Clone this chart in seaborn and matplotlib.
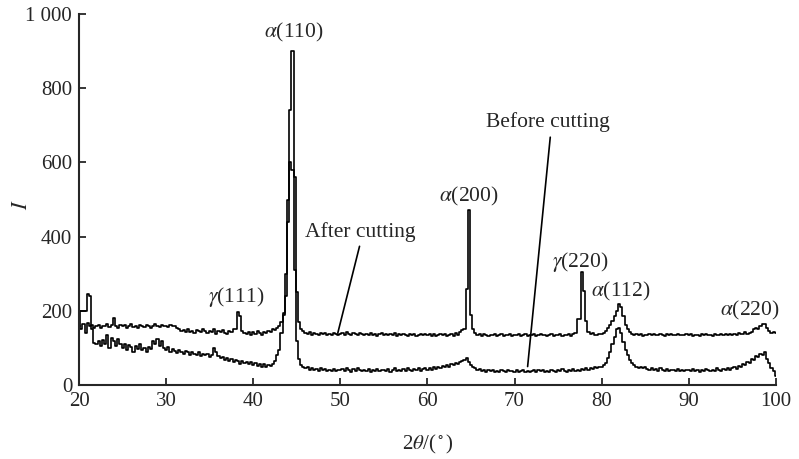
import numpy as np
import pandas as pd
import matplotlib
matplotlib.use("Agg")
import matplotlib.pyplot as plt
import seaborn as sns

# 2theta grid, 0.25 deg steps from 20 to 100
two_theta = np.arange(20, 100.001, 0.25)

# intensity after cutting (20 values per 5 deg)
I_after = [
    160, 150, 165, 140, 168, 160, 162, 155, 158, 163, 155, 160, 158, 165, 157, 162, 180, 160, 155, 163,
    158, 162, 155, 160, 165, 157, 160, 154, 162, 158, 156, 163, 160, 155, 158, 165, 160, 157, 162, 158,
    160, 156, 162, 158, 160, 155, 150, 145, 148, 142, 150, 144, 147, 140, 148, 145, 142, 150, 146, 140,
    147, 143, 150, 138, 146, 142, 148, 140, 138, 145, 142, 150, 150, 198, 185, 145, 140, 138, 143, 136,
    142, 138, 145, 140, 136, 144, 140, 146, 142, 150, 148, 155, 160, 170, 190, 240, 440, 740, 900, 560,
    250, 170, 150, 145, 140, 138, 142, 136, 140, 138, 135, 141, 137, 140, 136, 139, 135, 140, 138, 136,
    138, 140, 136, 142, 137, 135, 140, 138, 136, 141, 137, 134, 139, 136, 140, 135, 138, 133, 137, 140,
    136, 139, 134, 138, 135, 140, 132, 137, 135, 139, 136, 133, 138, 135, 137, 131, 136, 139, 134, 137,
    135, 138, 133, 137, 131, 136, 139, 134, 137, 132, 135, 138, 133, 140, 136, 142, 148, 150, 260, 472,
    190, 150, 140, 135, 138, 133, 137, 135, 132, 136, 134, 138, 131, 135, 137, 133, 136, 134, 138, 132,
    136, 134, 137, 131, 135, 138, 133, 136, 134, 137, 132, 135, 138, 134, 136, 131, 135, 137, 133, 136,
    134, 137, 132, 136, 135, 138, 133, 137, 140, 178, 178, 305, 254, 172, 142, 138, 140, 136, 134, 138,
    138, 140, 145, 155, 162, 172, 185, 200, 218, 210, 185, 162, 150, 142, 138, 135, 138, 134, 137, 133,
    136, 134, 138, 135, 137, 134, 136, 138, 135, 133, 137, 135, 138, 136, 134, 137, 135, 136, 134, 138,
    135, 137, 133, 136, 134, 132, 137, 135, 138, 134, 136, 133, 137, 135, 134, 138, 136, 139, 135, 137,
    136, 138, 135, 140, 137, 139, 142, 138, 141, 143, 150, 155, 152, 160, 165, 164, 155, 145, 140, 142,
    140,
]

# intensity before cutting
I_before = [
    158, 200, 200, 200, 245, 240, 150, 113, 110, 118, 105, 122, 112, 135, 100, 128, 118, 105, 125, 110,
    100, 112, 95, 108, 102, 90, 105, 98, 110, 95, 100, 88, 102, 97, 120, 112, 125, 105, 118, 100,
    95, 102, 88, 98, 92, 86, 95, 90, 84, 92, 88, 80, 90, 85, 82, 88, 78, 85, 80, 83,
    76, 82, 100, 88, 78, 72, 76, 68, 74, 65, 70, 62, 68, 64, 58, 66, 60, 63, 56, 62,
    55, 60, 52, 58, 50, 56, 48, 55, 52, 58, 65, 80, 95, 140, 195, 300, 500, 600, 580, 310,
    120, 70, 55, 48, 45, 50, 42, 46, 40, 44, 38, 45, 40, 43, 37, 42, 39, 44, 38, 41,
    40, 44, 38, 45, 41, 36, 43, 39, 46, 40, 37, 42, 38, 44, 36, 41, 39, 43, 37, 40,
    42, 38, 44, 36, 41, 45, 38, 42, 37, 43, 39, 46, 40, 38, 44, 41, 45, 39, 43, 47,
    42, 46, 40, 48, 44, 50, 45, 52, 48, 55, 50, 58, 54, 60, 56, 62, 65, 68, 72, 62,
    55, 50, 45, 40, 43, 38, 41, 36, 40, 37, 42, 35, 39, 36, 41, 38, 35, 40, 37, 39,
    36, 40, 35, 38, 42, 36, 39, 34, 38, 41, 35, 40, 37, 42, 36, 39, 35, 41, 38, 36,
    40, 37, 43, 38, 36, 42, 39, 44, 38, 41, 37, 43, 40, 45, 42, 46, 43, 48, 45, 50,
    48, 55, 60, 72, 90, 110, 130, 150, 155, 140, 115, 95, 80, 68, 60, 55, 50, 47, 50, 45,
    48, 44, 42, 46, 40, 43, 38, 45, 41, 39, 44, 37, 42, 40, 38, 43, 39, 41, 37, 42,
    40, 38, 43, 39, 41, 36, 42, 38, 44, 40, 37, 42, 39, 45, 41, 38, 43, 40, 46, 42,
    45, 48, 44, 52, 50, 56, 54, 62, 60, 70, 68, 78, 75, 85, 80, 88, 70, 60, 45, 38,
    25,
]

# peak labels
peak_labels = [r"$\alpha$(110)", r"$\gamma$(111)", r"$\alpha$(200)",
               r"$\gamma$(220)", r"$\alpha$(112)", r"$\alpha$(220)"]
peak_x = [44.6, 38.1, 64.7, 77.5, 82.2, 97.0]
peak_y = [950, 237, 508, 331, 251, 200]

y_ticks = [0, 200, 400, 600, 800, 1000]
y_tick_labels = ["0", "200", "400", "600", "800", "1 000"]
x_ticks = [20, 30, 40, 50, 60, 70, 80, 90, 100]

df = pd.DataFrame({"two_theta": two_theta, "after": I_after, "before": I_before})

sns.set_style("ticks")
plt.rcParams["font.family"] = ["Liberation Serif", "DejaVu Serif"]
plt.rcParams["mathtext.fontset"] = "stix"

fig = plt.figure(figsize=(7.99, 4.59), dpi=100)
ax = fig.add_axes([0.099, 0.161, 0.872, 0.8085])

for col in ["after", "before"]:
    sns.lineplot(data=df, x="two_theta", y=col, ax=ax, color="black",
                 linewidth=1.2, drawstyle="steps-mid", estimator=None)

ax.set_xlim(20, 100)
ax.set_ylim(0, 1000)
ax.set_xticks(x_ticks)
ax.set_yticks(y_ticks)
ax.set_yticklabels(y_tick_labels)
ax.tick_params(direction="in", length=5, width=1.3, labelsize=15, pad=5)
sns.despine(ax=ax)
for s in ["left", "bottom"]:
    ax.spines[s].set_linewidth(1.5)

ax.set_xlabel(r"2$\theta$/($^\circ$)", fontsize=15, labelpad=16)
ax.set_ylabel(r"$I$", fontsize=16)
ax.yaxis.set_label_coords(-0.068, 0.485)

for lab, px, py in zip(peak_labels, peak_x, peak_y):
    ax.text(px, py, lab, ha="center", va="center", fontsize=15.5)

# curve labels with leader lines
ax.text(52.3, 413, "After cutting", ha="center", va="center", fontsize=15.5)
ax.plot([52.2, 49.7], [374, 140], color="black", linewidth=1.2)
ax.text(73.8, 710, "Before cutting", ha="center", va="center", fontsize=15.5)
ax.plot([74.1, 71.5], [668, 50], color="black", linewidth=1.2)

fig.savefig("out.png", dpi=100)
